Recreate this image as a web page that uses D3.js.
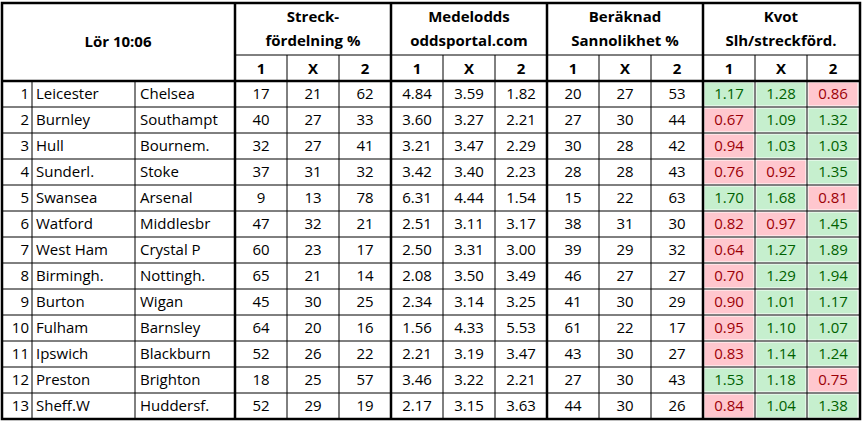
<!DOCTYPE html><html><head><meta charset="utf-8"><script src="https://cdn.jsdelivr.net/npm/d3@7"></script>
<style>body{margin:0;background:#fff}</style></head><body><svg id="c" width="864" height="422"></svg>
<script>
const home=["Leicester","Burnley","Hull","Sunderl.","Swansea","Watford","West Ham","Birmingh.","Burton","Fulham","Ipswich","Preston","Sheff.W"];
const away=["Chelsea","Southampt","Bournem.","Stoke","Arsenal","Middlesbr","Crystal P","Nottingh.","Wigan","Barnsley","Blackburn","Brighton","Huddersf."];
const streck=[[17,21,62],[40,27,33],[32,27,41],[37,31,32],[9,13,78],[47,32,21],[60,23,17],[65,21,14],[45,30,25],[64,20,16],[52,26,22],[18,25,57],[52,29,19]];
const odds=[[4.84,3.59,1.82],[3.60,3.27,2.21],[3.21,3.47,2.29],[3.42,3.40,2.23],[6.31,4.44,1.54],[2.51,3.11,3.17],[2.50,3.31,3.00],[2.08,3.50,3.49],[2.34,3.14,3.25],[1.56,4.33,5.53],[2.21,3.19,3.47],[3.46,3.22,2.21],[2.17,3.15,3.63]];
const sann=[[20,27,53],[27,30,44],[30,28,42],[28,28,43],[15,22,63],[38,31,30],[39,29,32],[46,27,27],[41,30,29],[61,22,17],[43,30,27],[27,30,43],[44,30,26]];
const kvot=[[1.17,1.28,0.86],[0.67,1.09,1.32],[0.94,1.03,1.03],[0.76,0.92,1.35],[1.70,1.68,0.81],[0.82,0.97,1.45],[0.64,1.27,1.89],[0.70,1.29,1.94],[0.90,1.01,1.17],[0.95,1.10,1.07],[0.83,1.14,1.24],[1.53,1.18,0.75],[0.84,1.04,1.38]];
const title="Lör 10:06";
const groupTitles=[["Streck-","fördelning %"],["Medelodds","oddsportal.com"],["Beräknad","Sannolikhet %"],["Kvot","Slh/streckförd."]];
const subLabels=["1","X","2"];

const svg=d3.select("#c");
const F="'Open Sans',sans-serif";
const L=2,R=860,T=3,H1=55,H2=81,rowH=26;
const groupX=[235,391,547,703,859];
const y=d3.scaleBand().domain(d3.range(13)).range([H2,H2+13*rowH]);
const colX=[];groupX.slice(0,4).forEach((g,i)=>{const w=(groupX[i+1]-g)/3;for(let k=0;k<3;k++)colX.push([g+k*w,w]);});
const groups=[streck,odds,sann,kvot];
const fmt=[d=>d,d=>d.toFixed(2),d=>d,d=>d.toFixed(2)];
// fills for kvot
kvot.forEach((r,i)=>r.forEach((v,k)=>{const [x,w]=colX[9+k];
 svg.append("rect").attr("x",x+1.5).attr("y",y(i)+1.5).attr("width",w-3).attr("height",rowH-3).attr("fill",v>=1?"#C6EFCE":"#FFC7CE");}));
// text
svg.append("text").attr("x",118).attr("y",(T+H2)/2+5).attr("text-anchor","middle").attr("font-family",F).attr("font-weight","bold").attr("font-size",15).text(title);
groupTitles.forEach((t,g)=>{const cx=(groupX[g]+groupX[g+1])/2;
 t.forEach((s,j)=>svg.append("text").attr("x",cx).attr("y",22+j*24).attr("text-anchor","middle").attr("font-family",F).attr("font-weight","bold").attr("font-size",15).text(s));
 subLabels.forEach((s,k)=>{const [x,w]=colX[g*3+k];svg.append("text").attr("x",x+w/2).attr("y",74).attr("text-anchor","middle").attr("font-family",F).attr("font-weight","bold").attr("font-size",15).text(s);});
});
home.forEach((h,i)=>{const ty=y(i)+rowH/2+5;
 svg.append("text").attr("x",29).attr("y",ty).attr("text-anchor","end").attr("font-family",F).attr("font-size",15).text(i+1);
 svg.append("text").attr("x",36).attr("y",ty).attr("font-family",F).attr("font-size",15).text(h);
 svg.append("text").attr("x",140).attr("y",ty).attr("font-family",F).attr("font-size",15).text(away[i]);
 groups.forEach((G,g)=>G[i].forEach((v,k)=>{const [x,w]=colX[g*3+k];
  svg.append("text").attr("x",x+w/2).attr("y",ty).attr("text-anchor","middle").attr("font-family",F).attr("font-size",15)
   .attr("fill",g===3?(v>=1?"#006100":"#9C0006"):"#000").text(fmt[g](v));}));
});
// lines
const ln=(x1,y1,x2,y2,w)=>svg.append("line").attr("x1",x1).attr("y1",y1).attr("x2",x2).attr("y2",y2).attr("stroke","#000").attr("stroke-width",w);
d3.range(1,13).forEach(i=>ln(L,y(i),R,y(i),1));
ln(groupX[0],H1,R,H1,1);
colX.forEach(([x],j)=>{if(j%3)ln(x,H1,x,y(12)+rowH,1);});
ln(32,H2,32,y(12)+rowH,1);ln(135,H2,135,y(12)+rowH,1);
groupX.slice(0,4).forEach(x=>ln(x,T,x,y(12)+rowH,2.5));
ln(L,H2,R,H2,2.5);
svg.append("rect").attr("x",L).attr("y",T).attr("width",R-L).attr("height",y(12)+rowH-T).attr("fill","none").attr("stroke","#000").attr("stroke-width",2.5);
</script></body></html>
